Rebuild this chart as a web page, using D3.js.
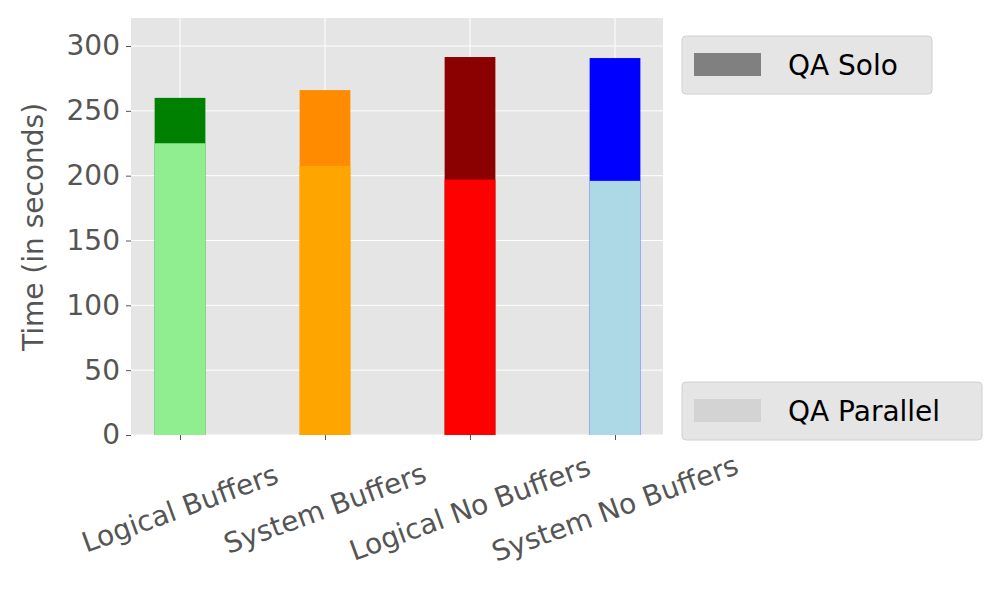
<!DOCTYPE html>
<html><head><meta charset="utf-8">
<script src="https://cdn.jsdelivr.net/npm/d3@7"></script>
<style>body{margin:0;background:#fff}text{font-family:"DejaVu Sans",sans-serif}</style>
</head><body><svg width="1000" height="600"></svg>
<script>
const categories = ["Logical Buffers", "System Buffers", "Logical No Buffers", "System No Buffers"];
const parallel = [225, 207.5, 197, 196];
const solo = [260, 266, 291.5, 290.7];
const parallelColors = ["#90ee90", "#ffa500", "#ff0000", "#add8e6"];
const soloColors = ["#008000", "#ff8c00", "#8b0000", "#0000ff"];
const yTicks = [0, 50, 100, 150, 200, 250, 300];

const svg = d3.select("svg");
const plotLeft = 131, plotRight = 663, plotTop = 18, plotBottom = 435;
const x = d3.scaleLinear().domain([-0.338, 3.331]).range([plotLeft, plotRight]);
const y = d3.scaleLinear().domain([0, 300]).range([plotBottom, 46]);
const bw = x(0.35) - x(0);

svg.append("rect").attr("x", plotLeft).attr("y", plotTop).attr("width", plotRight - plotLeft).attr("height", plotBottom - plotTop).attr("fill", "#e5e5e5");
svg.append("g").selectAll("line").data(yTicks).enter().append("line")
  .attr("x1", plotLeft).attr("x2", plotRight).attr("y1", d => y(d)).attr("y2", d => y(d)).attr("stroke", "#fff");
svg.append("g").selectAll("line").data(categories).enter().append("line")
  .attr("x1", (d, i) => x(i)).attr("x2", (d, i) => x(i)).attr("y1", plotTop).attr("y2", plotBottom).attr("stroke", "#fff");

svg.append("g").selectAll("rect").data(solo).enter().append("rect")
  .attr("x", (d, i) => x(i) - bw / 2).attr("width", bw)
  .attr("y", d => y(d)).attr("height", d => y(0) - y(d)).attr("fill", (d, i) => soloColors[i]);
svg.append("g").selectAll("rect").data(parallel).enter().append("rect")
  .attr("x", (d, i) => x(i) - bw / 2).attr("width", bw)
  .attr("y", d => y(d)).attr("height", d => y(0) - y(d)).attr("fill", (d, i) => parallelColors[i]);

const ya = svg.append("g").attr("transform", `translate(${plotLeft},0)`)
  .call(d3.axisLeft(y).tickValues(yTicks).tickSize(5).tickPadding(6));
ya.select(".domain").remove();
ya.selectAll("line").attr("stroke", "#555");
ya.selectAll("text").attr("font-size", 28).attr("fill", "#555");

const xa = svg.append("g").attr("transform", `translate(0,${plotBottom})`)
  .call(d3.axisBottom(x).tickValues([0, 1, 2, 3]).tickFormat(i => categories[i]).tickSize(5));
xa.select(".domain").remove();
xa.selectAll("line").attr("stroke", "#555");
xa.selectAll("text").attr("font-size", 28).attr("fill", "#555")
  .attr("text-anchor", "middle").attr("dy", 0)
  .attr("transform", "translate(0,75) rotate(-20)");

svg.append("text").attr("transform", "translate(43,227) rotate(-90)").attr("text-anchor", "middle")
  .attr("font-size", 28).attr("fill", "#555").text("Time (in seconds)");

const legends = [
  { label: "QA Solo", color: "#808080", x: 682, y: 36, w: 250 },
  { label: "QA Parallel", color: "#d3d3d3", x: 682, y: 382, w: 300 }
];
const lg = svg.append("g").selectAll("g").data(legends).enter().append("g")
  .attr("transform", d => `translate(${d.x},${d.y})`);
lg.append("rect").attr("width", d => d.w).attr("height", 58).attr("rx", 4)
  .attr("fill", "#e5e5e5").attr("stroke", "#d0d0d0");
lg.append("rect").attr("x", 12).attr("y", 17).attr("width", 67).attr("height", 23).attr("fill", d => d.color);
lg.append("text").attr("x", 106).attr("y", 39).attr("font-size", 28).attr("fill", "#000").text(d => d.label);
</script></body></html>
